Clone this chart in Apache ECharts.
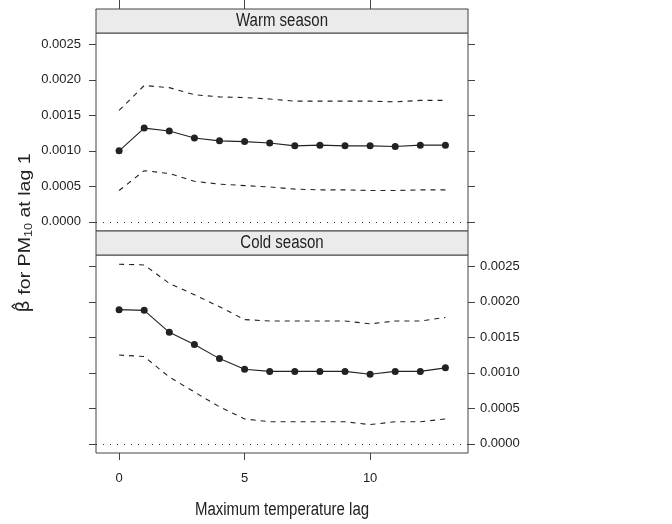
<!DOCTYPE html>
<html>
<head>
<meta charset="utf-8">
<script src="https://cdn.jsdelivr.net/npm/echarts@6/dist/echarts.min.js"></script>
<style>
html,body{margin:0;padding:0;background:#fff;}
#chart{width:672px;height:524px;}
</style>
</head>
<body>
<div id="chart"></div>
<script>
// ---- data ----
var lags = [0,1,2,3,4,5,6,7,8,9,10,11,12,13];
var warmEst   = [0.00100,0.00132,0.00128,0.00118,0.00114,0.00113,0.00111,0.00107,0.00108,0.00107,0.00107,0.00106,0.00108,0.00108];
var warmUpper = [0.00157,0.00192,0.00189,0.00179,0.00176,0.00175,0.00173,0.00170,0.00170,0.00170,0.00170,0.00169,0.00171,0.00171];
var warmLower = [0.00044,0.00072,0.00068,0.00057,0.00053,0.00051,0.00049,0.00046,0.00045,0.00045,0.00044,0.00044,0.00045,0.00045];
var coldEst   = [0.00189,0.00188,0.00157,0.00140,0.00120,0.00105,0.00102,0.00102,0.00102,0.00102,0.00098,0.00102,0.00102,0.00107];
var coldUpper = [0.00253,0.00252,0.00226,0.00210,0.00193,0.00175,0.00173,0.00173,0.00173,0.00173,0.00169,0.00173,0.00173,0.00178];
var coldLower = [0.00125,0.00123,0.00094,0.00073,0.00052,0.00035,0.00031,0.00031,0.00031,0.00031,0.00027,0.00031,0.00031,0.00035];
var yTicks = [0,0.0005,0.0010,0.0015,0.0020,0.0025];
var xTicks = [0,5,10];
var panelTitles = ['Warm season','Cold season'];
var xTitle = 'Maximum temperature lag';

function pairs(ys){ return lags.map(function(x,i){ return [x, ys[i]]; }); }

var FONT = '"Liberation Sans", Arial, Helvetica, sans-serif';
var AX = '#444';
var YMIN = -0.00013, YMAX = 0.00266, XMIN = -0.92, XMAX = 13.9;

function yAx(grid, pos, labels){
  return {
    type:'value', gridIndex:grid, position:pos, min:YMIN, max:YMAX,
    axisLine:{show:false, onZero:false},
    splitLine:{show:false},
    axisTick:{show:true, customValues:yTicks, length:7, lineStyle:{color:AX,width:1}},
    axisLabel:{show:labels, customValues:yTicks, fontFamily:FONT, fontSize:13, color:'#222',
      margin: pos==='left'?15:12,
      formatter:function(v){ return (+v).toFixed(4); }}
  };
}

function lineSeries(grid, ys, dashed, withSymbols, refLine){
  var s = {
    type:'line', xAxisIndex:grid, yAxisIndex:grid*2, data:pairs(ys),
    symbol: withSymbols?'circle':'none', symbolSize:7, showSymbol:withSymbols,
    itemStyle:{color:'#222'},
    lineStyle:{color:'#222', width:1.1, type: dashed?[5,5]:'solid'},
    silent:true, animation:false
  };
  if(refLine){
    s.markLine = {silent:true, symbol:'none', label:{show:false},
      lineStyle:{color:'#333', width:1, type:[1,6]},
      data:[{yAxis:0}]};
  }
  return s;
}

var chart = echarts.init(document.getElementById('chart'), null, {renderer:'canvas'});
chart.setOption({
  animation:false,
  backgroundColor:'#fff',
  grid:[
    {left:96, top:33, width:372, height:198, show:true, borderColor:AX, borderWidth:1, backgroundColor:'transparent'},
    {left:96, top:255, width:372, height:198, show:true, borderColor:AX, borderWidth:1, backgroundColor:'transparent'}
  ],
  xAxis:[
    {type:'value', gridIndex:0, position:'top', offset:24, min:XMIN, max:XMAX,
     axisLine:{show:true, onZero:false, lineStyle:{color:AX}}, splitLine:{show:false},
     axisTick:{show:true, customValues:xTicks, length:9, lineStyle:{color:AX}},
     axisLabel:{show:false}},
    {type:'value', gridIndex:1, position:'bottom', min:XMIN, max:XMAX,
     axisLine:{show:false, onZero:false}, splitLine:{show:false},
     axisTick:{show:true, customValues:xTicks, length:7, lineStyle:{color:AX}},
     axisLabel:{show:true, customValues:xTicks, fontFamily:FONT, fontSize:13, color:'#222', margin:19}}
  ],
  yAxis:[ yAx(0,'left',true), yAx(0,'right',false), yAx(1,'left',false), yAx(1,'right',true) ],
  series:[
    lineSeries(0, warmUpper, true, false, false),
    lineSeries(0, warmLower, true, false, false),
    lineSeries(0, warmEst, false, true, true),
    lineSeries(1, coldUpper, true, false, false),
    lineSeries(1, coldLower, true, false, false),
    lineSeries(1, coldEst, false, true, true)
  ],
  graphic:[
    {type:'rect', shape:{x:96, y:9, width:372, height:24}, style:{fill:'#ebebeb', stroke:AX, lineWidth:1}, z:10},
    {type:'text', x:282, y:21, scaleY:1.2, style:{text:panelTitles[0], font:'15px '+FONT, fill:'#222', textAlign:'center', textVerticalAlign:'middle'}, z:11},
    {type:'rect', shape:{x:96, y:231, width:372, height:24}, style:{fill:'#ebebeb', stroke:AX, lineWidth:1}, z:10},
    {type:'text', x:282, y:243, scaleY:1.2, style:{text:panelTitles[1], font:'15px '+FONT, fill:'#222', textAlign:'center', textVerticalAlign:'middle'}, z:11},
    {type:'text', x:282, y:510, scaleY:1.2, style:{text:xTitle, font:'15px '+FONT, fill:'#222', textAlign:'center', textVerticalAlign:'middle'}},
    {type:'text', x:25, y:233, rotation:Math.PI/2, scaleX:1.15,
     style:{text:'{b|\u03B2\u0302} for PM{s|10} at lag 1', font:'17px '+FONT, fill:'#222', textAlign:'center', textVerticalAlign:'middle',
       rich:{b:{fontFamily:'"DejaVu Sans", sans-serif', fontSize:17, fill:'#222'}, s:{fontFamily:FONT, fontSize:11, verticalAlign:'bottom', padding:[7,0,0,0]}}}}
  ]
});
</script>
</body>
</html>
